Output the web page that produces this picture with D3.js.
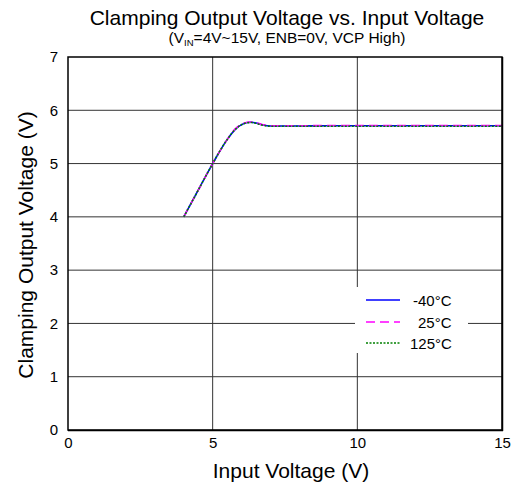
<!DOCTYPE html>
<html><head><meta charset="utf-8">
<script src="https://cdn.jsdelivr.net/npm/d3@7"></script>
<style>body{margin:0;background:#fff}svg{display:block;font-family:Arial,"Liberation Sans",sans-serif}</style>
</head><body><svg id="c" width="522" height="487"></svg>
<script>
const xTicks = [0,5,10,15];
const yTicks = [0,1,2,3,4,5,6,7];
const vin = [4.0,4.5,5.0,5.5,5.8,6.0,6.2,6.35,6.5,6.7,7.0,8,9,10,11,12,13,14,15];
const vm40 = [4.0,4.5,5.0,5.45,5.65,5.73,5.77,5.775,5.76,5.73,5.705,5.705,5.71,5.71,5.71,5.71,5.71,5.71,5.71];
const v25  = [4.0,4.5,5.0,5.45,5.66,5.74,5.775,5.78,5.765,5.735,5.71,5.71,5.715,5.715,5.715,5.715,5.715,5.715,5.715];
const v125 = [4.0,4.5,5.0,5.45,5.65,5.73,5.765,5.77,5.755,5.725,5.70,5.70,5.70,5.70,5.70,5.70,5.70,5.70,5.70];
const seriesNames = ["-40°C","25°C","125°C"];

const svg = d3.select("#c");
const L=68,R=502,T=57,B=430;
const x = d3.scaleLinear().domain([0,15]).range([L,R]);
const y = d3.scaleLinear().domain([0,7]).range([B,T]);

// grid
svg.append("g").selectAll("line").data(xTicks.slice(1,-1)).join("line")
  .attr("x1",d=>x(d)).attr("x2",d=>x(d)).attr("y1",T).attr("y2",B).attr("stroke","#333").attr("stroke-width",1);
svg.append("g").selectAll("line").data(yTicks.slice(1,-1)).join("line")
  .attr("x1",L).attr("x2",R).attr("y1",d=>y(d)).attr("y2",d=>y(d)).attr("stroke","#333").attr("stroke-width",1);

// axes tick labels
const xa = svg.append("g").attr("transform",`translate(0,${B})`).call(d3.axisBottom(x).tickValues(xTicks).tickFormat(d3.format("d")).tickSize(0).tickPadding(7));
xa.select(".domain").remove();
xa.selectAll("text").attr("font-size",15).attr("fill","#000").attr("font-family","Arial");
const ya = svg.append("g").attr("transform",`translate(${L},0)`).call(d3.axisLeft(y).tickValues(yTicks).tickFormat(d3.format("d")).tickSize(0).tickPadding(10));
ya.select(".domain").remove();
ya.selectAll("text").attr("font-size",15).attr("fill","#000").attr("font-family","Arial");

// curves
const line = d3.line().x((d,i)=>x(vin[i])).y(d=>y(d)).curve(d3.curveMonotoneX);
const styles = [
  {data:vm40,color:"#0000ff",dash:null},
  {data:v25,color:"#ff00ff",dash:"9,5"},
  {data:v125,color:"#008000",dash:"2,1.5"}
];
styles.forEach(s=>{
  svg.append("path").attr("d",line(s.data)).attr("fill","none").attr("stroke",s.color)
    .attr("stroke-width",1.6).attr("stroke-dasharray",s.dash);
});

// legend
const lg = svg.append("g");
lg.append("rect").attr("x",355).attr("y",287).attr("width",113).attr("height",66).attr("fill","#fff");
const legY = [300,322,343];
const legX = [413,418,410];
styles.forEach((s,i)=>{
  const yy = legY[i];
  lg.append("line").attr("x1",366).attr("x2",400).attr("y1",yy).attr("y2",yy)
    .attr("stroke",s.color).attr("stroke-width",1.6).attr("stroke-dasharray",s.dash);
  lg.append("text").attr("x",legX[i]).attr("y",yy+5.5).attr("font-size",15).text(seriesNames[i]);
});

// frame
svg.append("rect").attr("x",L).attr("y",T).attr("width",R-L).attr("height",B-T).attr("fill","none").attr("stroke","#000").attr("stroke-width",1.5);
svg.append("line").attr("x1",R+0.5).attr("x2",R+0.5).attr("y1",T).attr("y2",B+1).attr("stroke","#000").attr("stroke-width",1.5);
svg.append("line").attr("x1",L).attr("x2",R+1).attr("y1",B+0.5).attr("y2",B+0.5).attr("stroke","#000").attr("stroke-width",1.5);

// titles
svg.append("text").attr("x",287).attr("y",25).attr("text-anchor","middle").attr("font-size",21).text("Clamping Output Voltage vs. Input Voltage");
const st = svg.append("text").attr("x",287).attr("y",43).attr("text-anchor","middle").attr("font-size",15.5);
st.append("tspan").text("(V");
st.append("tspan").attr("font-size",9.5).attr("dy",2.5).text("IN");
st.append("tspan").attr("dy",-2.5).text("=4V~15V, ENB=0V, VCP High)");
svg.append("text").attr("x",291).attr("y",478).attr("text-anchor","middle").attr("font-size",21).text("Input Voltage (V)");
svg.append("text").attr("transform","translate(33,245) rotate(-90)").attr("text-anchor","middle").attr("font-size",21).text("Clamping Output Voltage (V)");
</script></body></html>
